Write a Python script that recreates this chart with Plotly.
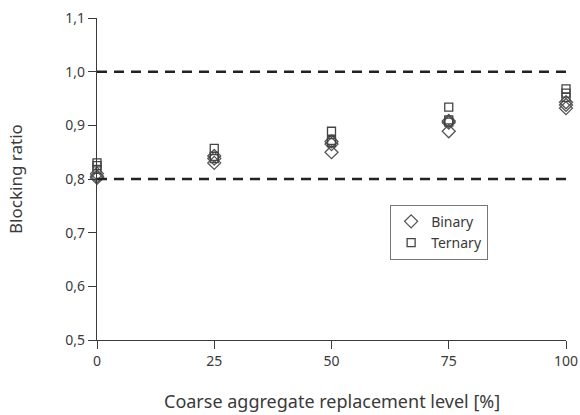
import plotly.graph_objects as go

# Replacement levels (x) and measured blocking ratios, three mixes per level
levels = [0, 0, 0, 25, 25, 25, 50, 50, 50, 75, 75, 75, 100, 100, 100]
binary = [0.810, 0.805, 0.802, 0.843, 0.838, 0.830, 0.870, 0.865, 0.850,
          0.908, 0.905, 0.889, 0.943, 0.938, 0.932]
ternary = [0.830, 0.825, 0.818, 0.857, 0.842, 0.838, 0.889, 0.872, 0.868,
           0.934, 0.910, 0.906, 0.968, 0.960, 0.952]
limits = [0.8, 1.0]
x_ticks = [0, 25, 50, 75, 100]
y_ticks = [0.5, 0.6, 0.7, 0.8, 0.9, 1.0, 1.1]
y_labels = ["0,5", "0,6", "0,7", "0,8", "0,9", "1,0", "1,1"]
x_title = "Coarse aggregate replacement level [%]"
y_title = "Blocking ratio"

FONT = "Noto Sans"
INK = "#3a3a3a"

fig = go.Figure()
fig.add_trace(go.Scatter(
    x=levels, y=binary, mode="markers", name="Binary", cliponaxis=False,
    marker=dict(symbol="diamond-open", size=10, color="#555555", line=dict(width=1.3)),
))
fig.add_trace(go.Scatter(
    x=levels, y=ternary, mode="markers", name="Ternary", cliponaxis=False,
    marker=dict(symbol="square-open", size=8, color="#444444", line=dict(width=1.3)),
))

for v in limits:
    fig.add_shape(type="line", xref="x", yref="y", x0=0, x1=100, y0=v, y1=v,
                  line=dict(color="#222222", width=2.5, dash="10px,7px"))

# Axis titles placed in paper coordinates
fig.add_annotation(text=x_title, xref="paper", yref="paper", x=0.5, y=-0.19,
                   xanchor="center", yanchor="middle", showarrow=False,
                   font=dict(size=18, color=INK))
fig.add_annotation(text=y_title, xref="paper", yref="paper", x=-0.175, y=0.5,
                   xanchor="center", yanchor="middle", showarrow=False,
                   textangle=-90, font=dict(size=17, color=INK))

fig.update_layout(
    width=580, height=415,
    margin=dict(l=97, r=14, t=18, b=75),
    paper_bgcolor="white", plot_bgcolor="white",
    font=dict(family=FONT, size=14, color=INK),
    showlegend=True,
    legend=dict(x=0.625, y=0.42, xanchor="left", yanchor="top",
                bordercolor="#777777", borderwidth=1, bgcolor="white",
                font=dict(size=14, color=INK), itemwidth=30,
                tracegroupgap=0),
    xaxis=dict(range=[0, 100], tickvals=x_ticks, ticks="outside", ticklen=8,
               tickcolor=INK, showline=True, linecolor=INK, linewidth=1.2,
               showgrid=False, zeroline=False, automargin=False),
    yaxis=dict(range=[0.5, 1.1], tickvals=y_ticks, ticktext=y_labels,
               ticks="outside", ticklen=8, tickcolor=INK, showline=True,
               linecolor=INK, linewidth=1.2, showgrid=False, zeroline=False,
               automargin=False),
)

fig.write_html("out.html")
